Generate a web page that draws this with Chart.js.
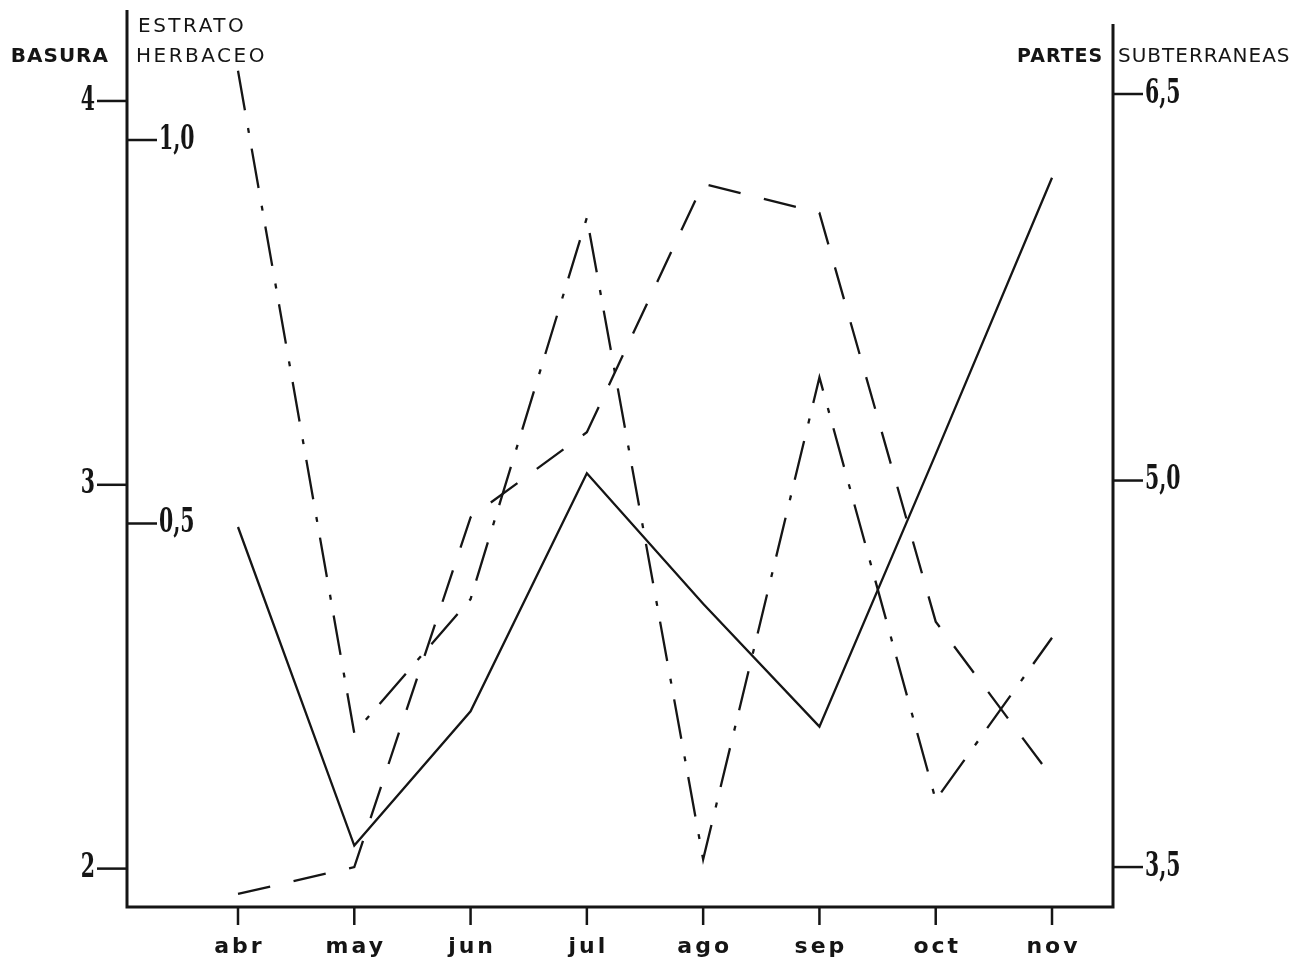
<!DOCTYPE html>
<html>
<head>
<meta charset="utf-8">
<script src="https://cdn.jsdelivr.net/npm/chart.js@4"></script>
<style>
body{margin:0;background:#fff;}
#wrap{width:1314px;height:963px;}
</style>
</head>
<body>
<div id="wrap"><canvas id="canvas"></canvas></div>
<script>
const months=["abr","may","jun","jul","ago","sep","oct","nov"];
const basura=[2.89,2.06,2.41,3.03,2.69,2.37,3.08,3.80];
const herbaceo=[0.017,0.052,0.508,0.619,0.943,0.905,0.372,0.169];
const partes=[6.59,4.02,4.54,6.02,3.53,5.40,3.76,4.39];
const basuraTicks=[2,3,4];
const herbaceoTicks=[0.5,1.0];
const partesTicks=[3.5,5.0,6.5];
const ink="#151515";

function pts(arr){
    return arr.map((v,i)=>({x:i,y:v}));
}
function comma(v){
    return v.toFixed(1).replace(".",",");
}
function seg(ctx,x1,y1,x2,y2){
    ctx.beginPath();
    ctx.moveTo(x1,y1);
    ctx.lineTo(x2,y2);
    ctx.stroke();
}
function num(ctx,t,x,y,align){
    ctx.save();
    ctx.translate(x,y);
    ctx.scale(0.62,1);
    ctx.textAlign=align;
    ctx.fillText(t,0,0);
    ctx.restore();
}
function word(ctx,t,x,y,font,spacing,align){
    ctx.font=font;
    ctx.letterSpacing=spacing;
    ctx.textAlign=align||"left";
    ctx.fillText(t,x,y);
    ctx.letterSpacing="0px";
}

const axesPlugin={
    id:"axes",
    afterDraw(chart){
        const ctx=chart.ctx;
        const a=chart.chartArea;
        const sx=chart.scales.x,yb=chart.scales.yb,yh=chart.scales.yh,yp=chart.scales.yp;
        ctx.save();
        ctx.strokeStyle=ink;
        ctx.fillStyle=ink;
        ctx.lineWidth=3;
        ctx.beginPath();
        ctx.moveTo(a.left,a.top);
        ctx.lineTo(a.left,a.bottom);
        ctx.lineTo(a.right,a.bottom);
        ctx.lineTo(a.right,a.top+14);
        ctx.stroke();

        // month ticks
        ctx.lineWidth=2.5;
        ctx.textBaseline="alphabetic";
        months.forEach((m,i)=>{
            const px=sx.getPixelForValue(i);
            seg(ctx,px,a.bottom,px,a.bottom+18);
            word(ctx,m,px+1.5,a.bottom+46,"bold 22px 'DejaVu Sans'","3px","center");
        });

        // numeric ticks
        ctx.font="bold 33px 'DejaVu Serif'";
        ctx.textBaseline="middle";
        basuraTicks.forEach(v=>{
            const py=yb.getPixelForValue(v);
            seg(ctx,a.left-30,py,a.left,py);
            num(ctx,String(v),a.left-32,py,"right");
        });
        herbaceoTicks.forEach(v=>{
            const py=yh.getPixelForValue(v);
            seg(ctx,a.left,py,a.left+30,py);
            num(ctx,comma(v),a.left+32,py,"left");
        });
        partesTicks.forEach(v=>{
            const py=yp.getPixelForValue(v);
            seg(ctx,a.right,py,a.right+30,py);
            num(ctx,comma(v),a.right+32,py,"left");
        });

        // axis titles
        ctx.textBaseline="alphabetic";
        word(ctx,"BASURA",a.left-18,62,"bold 20px 'DejaVu Sans'","1px","right");
        word(ctx,"ESTRATO",a.left+11,32,"20px 'DejaVu Sans'","2.5px");
        word(ctx,"HERBACEO",a.left+9,62,"20px 'DejaVu Sans'","2.5px");
        word(ctx,"PARTES",a.right-96,62,"bold 19px 'DejaVu Sans'","1px");
        word(ctx,"SUBTERRANEAS",a.right+5,62,"20px 'DejaVu Sans'","1px");
        ctx.restore();
    }
};

const ctx=document.getElementById("canvas");
new Chart(ctx,{
    type:"line",
    data:{
        datasets:[
            {label:"Basura",data:pts(basura),yAxisID:"yb",borderDash:[]},
            {label:"Estrato herbaceo",data:pts(herbaceo),yAxisID:"yh",borderDash:[33,24]},
            {label:"Partes subterraneas",data:pts(partes),yAxisID:"yp",borderDash:[40,18,5,16]}
        ]
    },
    options:{
        responsive:true,
        maintainAspectRatio:false,
        animation:false,
        layout:{padding:{left:127,right:201,top:10,bottom:56}},
        elements:{
            line:{borderColor:ink,borderWidth:2.3,tension:0,fill:false,borderCapStyle:"butt"},
            point:{radius:0}
        },
        plugins:{legend:{display:false},tooltip:{enabled:false}},
        scales:{
            x:{type:"linear",display:false,min:-0.9545,max:7.5245},
            yb:{type:"linear",display:false,min:1.9,max:4.237},
            yh:{type:"linear",display:false,min:0,max:1.1695},
            yp:{type:"linear",display:false,min:3.345,max:6.826}
        }
    },
    plugins:[axesPlugin]
});
</script>
</body>
</html>
